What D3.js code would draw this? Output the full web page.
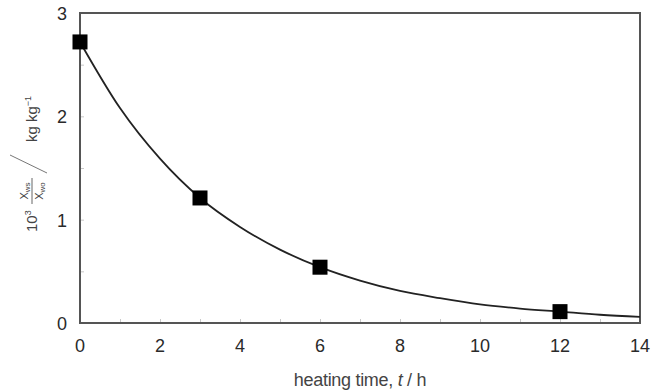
<!DOCTYPE html>
<html>
<head>
<meta charset="utf-8">
<script src="https://cdn.jsdelivr.net/npm/d3@7"></script>
<style>
  body { margin: 0; background: #fff; }
  text { font-family: "Liberation Sans", Arial, sans-serif; fill: #2a2a2a; }
</style>
</head>
<body>
<div id="chart"></div>
<script>
var width = 651,
    height = 392,
    margin = { top: 13, right: 11, bottom: 69, left: 80 };

// measured points
var hours = [0, 3, 6, 12];
var ratio = [2.72, 1.21, 0.54, 0.11];

// fitted curve at each hour
var curveT = [0, 1, 2, 3, 4, 5, 6, 7, 8, 9, 10, 11, 12, 13, 14];
var curveY = [2.72, 2.08, 1.59, 1.21, 0.93, 0.71, 0.54, 0.41, 0.31, 0.24, 0.18, 0.14, 0.11, 0.08, 0.06];

var xTicks = [0, 2, 4, 6, 8, 10, 12, 14];
var yTicks = [0, 1, 2, 3];

var svg = d3.select("#chart")
            .append("svg")
            .attr("width", width)
            .attr("height", height);

var x = d3.scaleLinear().domain([0, 14]).range([margin.left, width - margin.right]);
var y = d3.scaleLinear().domain([0, 3]).range([height - margin.bottom, margin.top]);

// minor ticks, faint, pointing inwards
svg.append("g")
   .attr("transform", "translate(0," + y(0) + ")")
   .call(d3.axisTop(x).tickValues(d3.range(1, 14)).tickSize(4).tickFormat(""))
   .call(function (g) { g.select(".domain").remove(); })
   .selectAll("line").attr("stroke", "#c8c8c8");

svg.append("g")
   .attr("transform", "translate(" + x(0) + ",0)")
   .call(d3.axisRight(y).tickValues([0.5, 1, 1.5, 2, 2.5]).tickSize(4).tickFormat(""))
   .call(function (g) { g.select(".domain").remove(); })
   .selectAll("line").attr("stroke", "#c8c8c8");

// frame
svg.append("rect")
   .attr("x", x(0))
   .attr("y", y(3))
   .attr("width", x(14) - x(0))
   .attr("height", y(0) - y(3))
   .attr("fill", "none")
   .attr("stroke", "#555")
   .attr("stroke-width", 2);

// tick labels
svg.selectAll(".xl")
   .data(xTicks)
   .enter().append("text")
   .attr("x", function (d) { return x(d); })
   .attr("y", y(0) + 29)
   .attr("text-anchor", "middle")
   .style("font-size", "18px")
   .text(function (d) { return d; });

svg.selectAll(".yl")
   .data(yTicks)
   .enter().append("text")
   .attr("x", x(0) - 13)
   .attr("y", function (d) { return y(d) + 7; })
   .attr("text-anchor", "end")
   .style("font-size", "18px")
   .text(function (d) { return d; });

// fitted line
var line = d3.line()
             .x(function (d, i) { return x(curveT[i]); })
             .y(function (d) { return y(d); })
             .curve(d3.curveMonotoneX);

svg.append("path")
   .datum(curveY)
   .attr("d", line)
   .attr("fill", "none")
   .attr("stroke", "#222")
   .attr("stroke-width", 1.8);

// markers
var s = 15;
svg.selectAll(".pt")
   .data(ratio)
   .enter().append("rect")
   .attr("x", function (d, i) { return x(hours[i]) - s / 2; })
   .attr("y", function (d) { return y(d) - s / 2; })
   .attr("width", s)
   .attr("height", s)
   .attr("fill", "#000");

// x title
var xt = svg.append("text")
   .attr("x", 360)
   .attr("y", 386)
   .attr("text-anchor", "middle")
   .style("font-size", "18px")
   .style("letter-spacing", "-0.3px")
   .style("fill", "#444");
xt.append("tspan").text("heating time, ");
xt.append("tspan").style("font-style", "italic").text("t");
xt.append("tspan").text(" / h");

// y title
var yt = svg.append("g")
   .attr("transform", "translate(37,170) rotate(-90)");

yt.append("text")
  .attr("x", -62)
  .attr("y", 0)
  .style("font-size", "15px")
  .style("fill", "#444")
  .html("10<tspan dy='-6' font-size='9px'>3</tspan>");

yt.append("text")
  .attr("x", -21)
  .attr("y", -9)
  .attr("text-anchor", "middle")
  .style("font-size", "11px")
  .style("fill", "#444")
  .html("X<tspan dy='2' font-size='8px'>ws</tspan>");

yt.append("line")
  .attr("x1", -34).attr("x2", -8)
  .attr("y1", -5).attr("y2", -5)
  .attr("stroke", "#666").attr("stroke-width", 1);

yt.append("text")
  .attr("x", -21)
  .attr("y", 6)
  .attr("text-anchor", "middle")
  .style("font-size", "11px")
  .style("fill", "#444")
  .html("X<tspan dy='2' font-size='8px'>wo</tspan>");

yt.append("line")
  .attr("x1", -3).attr("x2", 15)
  .attr("y1", 10).attr("y2", -27)
  .attr("stroke", "#777").attr("stroke-width", 1);

yt.append("text")
  .attr("x", 28)
  .attr("y", 0)
  .style("font-size", "15px")
  .style("fill", "#444")
  .html("kg kg<tspan dy='-6' font-size='9px'>−1</tspan>");
</script>
</body>
</html>
